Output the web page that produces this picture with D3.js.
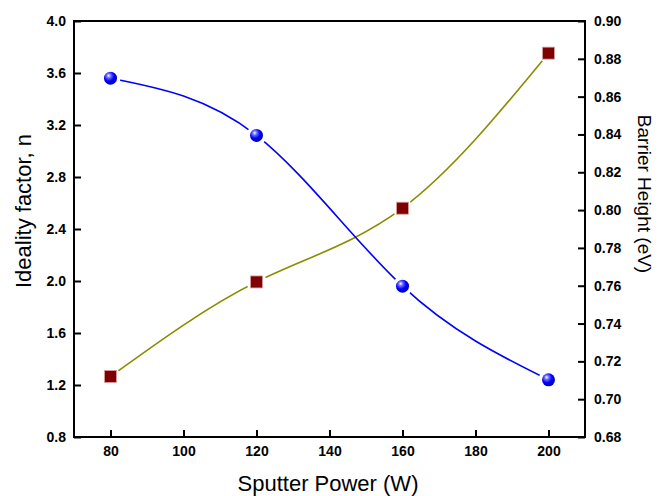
<!DOCTYPE html>
<html>
<head>
<meta charset="utf-8">
<script src="https://cdn.jsdelivr.net/npm/d3@7"></script>
<style>
  body { margin: 0; background: #fff; }
  svg { font-family: "Liberation Sans", Arial, sans-serif; }
  .tick text { font-weight: bold; font-size: 14px; fill: #000; }
</style>
</head>
<body>
<div id="chart"></div>
<script>
var power = [80, 120, 160, 200],
    ideality = [3.56, 3.12, 1.96, 1.24],
    barrier = [0.712, 0.762, 0.801, 0.883];

var xTicks = [80, 100, 120, 140, 160, 180, 200],
    nTicks = [0.8, 1.2, 1.6, 2.0, 2.4, 2.8, 3.2, 3.6, 4.0],
    bTicks = [0.68, 0.70, 0.72, 0.74, 0.76, 0.78, 0.80, 0.82, 0.84, 0.86, 0.88, 0.90];

var w = 661, h = 496,
    pl = 74, pr = 585, pt = 21, pb = 437;

var x = d3.scaleLinear().domain([70, 210]).range([pl, pr]),
    yn = d3.scaleLinear().domain([0.8, 4.0]).range([pb, pt]),
    yb = d3.scaleLinear().domain([0.68, 0.90]).range([pb, pt]);

var svg = d3.select("#chart").append("svg")
    .attr("width", w)
    .attr("height", h);

var defs = svg.append("defs");
var grad = defs.append("radialGradient")
    .attr("id", "ball")
    .attr("cx", "40%").attr("cy", "35%").attr("r", "65%")
    .attr("fx", "35%").attr("fy", "30%");
grad.append("stop").attr("offset", "0%").attr("stop-color", "#ffffff");
grad.append("stop").attr("offset", "25%").attr("stop-color", "#7070ff");
grad.append("stop").attr("offset", "60%").attr("stop-color", "#0000ff");
grad.append("stop").attr("offset", "100%").attr("stop-color", "#0000b0");

var line = d3.line().curve(d3.curveNatural);

// curves
svg.append("path")
    .attr("d", line(power.map(function(p, i) { return [x(p), yb(barrier[i])]; })))
    .attr("fill", "none")
    .attr("stroke", "#8b8b00")
    .attr("stroke-width", 1.6);

svg.append("path")
    .attr("d", line(power.map(function(p, i) { return [x(p), yn(ideality[i])]; })))
    .attr("fill", "none")
    .attr("stroke", "#0000ff")
    .attr("stroke-width", 1.6);

// white halos so lines stop short of the markers
svg.selectAll("circle.halo-n")
    .data(power)
  .enter().append("circle")
    .attr("class", "halo-n")
    .attr("cx", function(d) { return x(d); })
    .attr("cy", function(d, i) { return yn(ideality[i]); })
    .attr("r", 10)
    .attr("fill", "#fff");

svg.selectAll("circle.halo-b")
    .data(power)
  .enter().append("circle")
    .attr("class", "halo-b")
    .attr("cx", function(d) { return x(d); })
    .attr("cy", function(d, i) { return yb(barrier[i]); })
    .attr("r", 10)
    .attr("fill", "#fff");

// markers
svg.selectAll("rect.sq")
    .data(power)
  .enter().append("rect")
    .attr("class", "sq")
    .attr("x", function(d) { return x(d) - 6; })
    .attr("y", function(d, i) { return yb(barrier[i]) - 6; })
    .attr("width", 12)
    .attr("height", 12)
    .attr("fill", "#7f0000")
    .attr("stroke", "#d8a0a0")
    .attr("stroke-width", 0.8);

svg.selectAll("circle.ball")
    .data(power)
  .enter().append("circle")
    .attr("class", "ball")
    .attr("cx", function(d) { return x(d); })
    .attr("cy", function(d, i) { return yn(ideality[i]); })
    .attr("r", 6.5)
    .attr("fill", "url(#ball)");

// axes
svg.append("g")
    .attr("transform", "translate(0," + pb + ")")
    .call(d3.axisBottom(x).tickValues(xTicks).tickSizeInner(-7).tickSizeOuter(0).tickPadding(9));

svg.append("g")
    .attr("transform", "translate(" + pl + ",0)")
    .call(d3.axisLeft(yn).tickValues(nTicks).tickFormat(d3.format(".1f")).tickSizeInner(-7).tickSizeOuter(0).tickPadding(8));

svg.append("g")
    .attr("transform", "translate(" + pr + ",0)")
    .call(d3.axisRight(yb).tickValues(bTicks).tickFormat(d3.format(".2f")).tickSizeInner(-7).tickSizeOuter(0).tickPadding(9));

svg.selectAll(".domain").remove();
svg.selectAll(".tick line").attr("stroke", "#000").attr("stroke-width", 2);

svg.append("rect")
    .attr("x", pl)
    .attr("y", pt)
    .attr("width", pr - pl)
    .attr("height", pb - pt)
    .attr("fill", "none")
    .attr("stroke", "#000")
    .attr("stroke-width", 2);

// titles
svg.append("text")
    .attr("x", 328)
    .attr("y", 491)
    .attr("text-anchor", "middle")
    .attr("font-size", 22)
    .text("Sputter Power (W)");

svg.append("text")
    .attr("transform", "translate(31,211)rotate(-90)")
    .attr("text-anchor", "middle")
    .attr("font-size", 22)
    .text("Ideality factor, n");

svg.append("text")
    .attr("transform", "translate(638,194)rotate(90)")
    .attr("text-anchor", "middle")
    .attr("font-size", 19)
    .text("Barrier Height (eV)");
</script>
</body>
</html>
